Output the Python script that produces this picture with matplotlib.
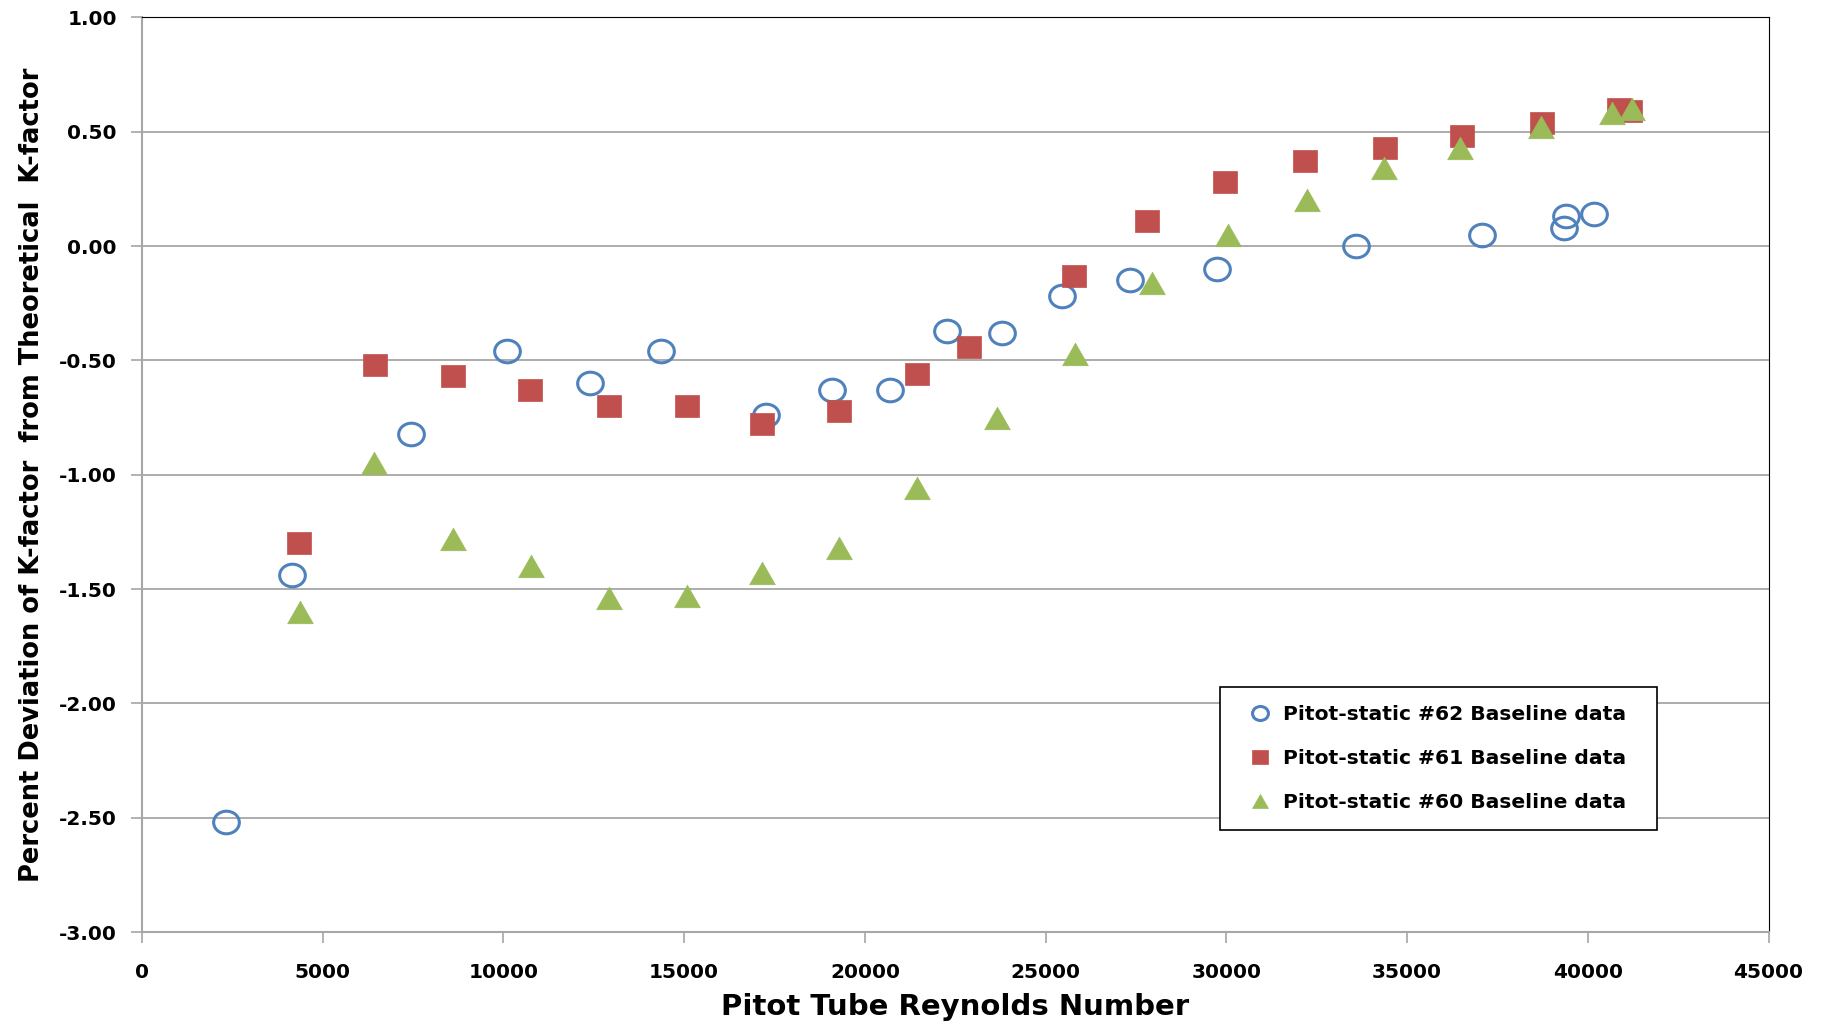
import numpy as np
import matplotlib
matplotlib.use("Agg")
import matplotlib.pyplot as plt
from matplotlib.path import Path
from matplotlib.markers import MarkerStyle
from matplotlib.transforms import Affine2D

# Pitot-static #62 baseline data
re_62 = [2314, 4146, 7457, 10093, 12407, 14368, 17261, 19093, 20700, 22275,
         23786, 25457, 27321, 29732, 33589, 37061, 39343, 39407, 40179]
dev_62 = [-2.52, -1.44, -0.82, -0.46, -0.60, -0.46, -0.74, -0.63, -0.63, -0.37,
          -0.38, -0.22, -0.15, -0.10, 0.00, 0.05, 0.08, 0.13, 0.14]

# Pitot-static #61 baseline data
re_61 = [4339, 6461, 8614, 10736, 12921, 15075, 17164, 19286, 21439, 22886,
         25779, 27804, 29957, 32175, 34393, 36514, 38732, 40854, 41175]
dev_61 = [-1.30, -0.52, -0.57, -0.63, -0.70, -0.70, -0.78, -0.72, -0.56, -0.44,
          -0.13, 0.11, 0.28, 0.37, 0.43, 0.48, 0.54, 0.60, 0.59]

# Pitot-static #60 baseline data
re_60 = [4371, 6429, 8614, 10768, 12921, 15075, 17164, 19286, 21439, 23657,
         25811, 27932, 30054, 32239, 34361, 36450, 38700, 40661, 41207]
dev_60 = [-1.60, -0.95, -1.28, -1.40, -1.54, -1.53, -1.43, -1.32, -1.06, -0.75,
          -0.47, -0.16, 0.05, 0.20, 0.34, 0.43, 0.52, 0.58, 0.60]

x_ticks = np.arange(0, 45001, 5000)
y_ticks = np.arange(-3.0, 1.01, 0.5)

# slightly squashed marker shapes
ellipse = MarkerStyle(Path.unit_circle().transformed(Affine2D().scale(1, 0.88)))
rect = MarkerStyle(Path([(-1, -0.87), (1, -0.87), (1, 0.87), (-1, 0.87), (-1, -0.87)], closed=True))
tri = MarkerStyle(Path([(-1, -0.875), (1, -0.875), (0, 0.875), (-1, -0.875)], closed=True))

fig = plt.figure(figsize=(18.22, 10.26), dpi=100)
ax = fig.add_axes([0.0779, 0.0916, 0.8928, 0.8914])

ax.plot(re_62, dev_62, linestyle="none", marker=ellipse, markersize=18.5,
        markerfacecolor="none", markeredgecolor="#4F81BD", markeredgewidth=2.2,
        label="Pitot-static #62 Baseline data", zorder=3)
ax.plot(re_61, dev_61, linestyle="none", marker=rect, markersize=17.5,
        markerfacecolor="#C0504D", markeredgecolor="#C0504D", markeredgewidth=0.5,
        label="Pitot-static #61 Baseline data", zorder=3)
ax.plot(re_60, dev_60, linestyle="none", marker=tri, markersize=18.5,
        markerfacecolor="#9BBB59", markeredgecolor="#9BBB59", markeredgewidth=0.5,
        label="Pitot-static #60 Baseline data", zorder=3)

ax.set_xlim(0, 45000)
ax.set_ylim(-3.0, 1.0)
ax.set_xticks(x_ticks)
ax.set_yticks(y_ticks)
ax.set_xticklabels([f"{v:d}" for v in x_ticks])
ax.set_yticklabels([f"{v:.2f}" for v in y_ticks])
ax.yaxis.grid(True, color="#A6A6A6", linewidth=1.3)
ax.set_axisbelow(True)

for lab in ax.get_xticklabels() + ax.get_yticklabels():
    lab.set_fontweight("bold")
    lab.set_fontsize(14.5)
ax.tick_params(axis="both", direction="out", length=8, width=1.2, color="#A6A6A6", pad=10)
ax.tick_params(axis="x", pad=14)

ax.spines["left"].set_color("#A6A6A6")
ax.spines["bottom"].set_color("#A6A6A6")
ax.spines["left"].set_linewidth(1.5)
ax.spines["bottom"].set_linewidth(1.5)
ax.spines["top"].set_color("black")
ax.spines["right"].set_color("black")

ax.set_xlabel("Pitot Tube Reynolds Number", fontsize=21, fontweight="bold", labelpad=8)
ax.set_ylabel("Percent Deviation of K-factor  from Theoretical  K-factor",
              fontsize=18.5, fontweight="bold", labelpad=10)

# legend box stretched to a fixed width in axes coordinates
leg = ax.legend(loc="lower left", bbox_to_anchor=(0.6629, 0.112, 0.2686, 0.0),
                mode="expand", prop={"weight": "bold", "size": 14.6},
                frameon=True, fancybox=False, edgecolor="black",
                handletextpad=0.05, labelspacing=1.25, borderpad=0.85,
                handlelength=2.2, borderaxespad=0, markerscale=0.62)
leg.get_frame().set_linewidth(1.2)
leg.get_frame().set_alpha(1)

fig.savefig("out.png", dpi=100, facecolor="white")
